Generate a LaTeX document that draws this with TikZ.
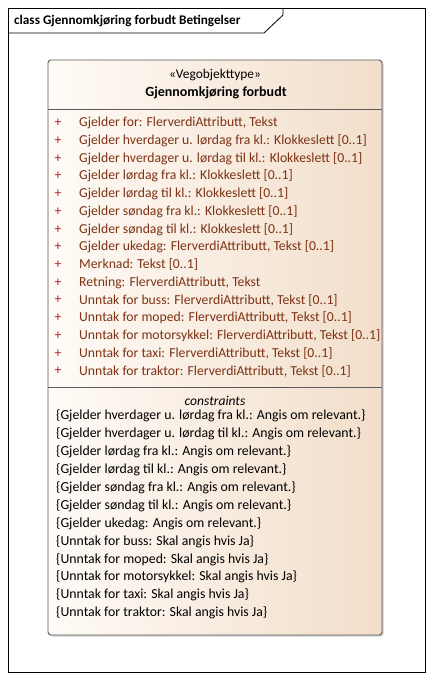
\documentclass[tikz,border=0pt]{standalone}
\usepackage{fontspec}
\setmainfont{Carlito}
\usetikzlibrary{shadows}
\definecolor{attrc}{RGB}{125,50,20}
\definecolor{plusc}{RGB}{165,40,40}
\definecolor{boxr}{RGB}{242,222,202}
\definecolor{boxl}{RGB}{255,251,247}
\definecolor{edgec}{RGB}{90,90,90}
\tikzset{
  attr/.style={anchor=west, inner sep=0pt, text=attrc, font=\fontsize{13.7}{15}\selectfont},
  plus/.style={anchor=center, inner sep=0pt, text=plusc, font=\fontsize{13.7}{15}\selectfont},
  cons/.style={anchor=west, inner sep=0pt, text=black, font=\fontsize{13.8}{15}\selectfont},
  sep/.style={draw=edgec, line width=0.8pt}
}
\begin{document}
\begin{tikzpicture}[x=1pt,y=-1pt]
\useasboundingbox (0,0) rectangle (433,680);
\fill[white] (0,0) rectangle (433,680);
% frame
\draw[line width=0.8pt] (8,8) rectangle (425,672);
\draw[line width=0.8pt] (8,33) -- (264,33) -- (283,15) -- (283,8);
\node[anchor=west, inner sep=0pt, font=\bfseries\fontsize{13.2}{15}\selectfont] (title) at (14,21) {class Gjennomkjøring forbudt Betingelser};
% class box
\path[drop shadow={shadow xshift=1.5pt, shadow yshift=-1.5pt, opacity=0.4}, left color=boxl, right color=boxr] (48,60) [rounded corners=3pt] rectangle (382,635);
\draw[draw=edgec, line width=0.9pt, rounded corners=3pt] (48,60) rectangle (382,635);
\node[inner sep=0pt, font=\fontsize{13.4}{15}\selectfont] (stereo) at (215,75) {«Vegobjekttype»};
\node[inner sep=0pt, font=\bfseries\fontsize{14}{16}\selectfont] (name) at (216,93) {Gjennomkjøring forbudt};
\draw[sep] (48,109) -- (382,109);
\foreach \t [count=\i from 0] in {
  {Gjelder for: FlerverdiAttributt, Tekst},
  {Gjelder hverdager u. lørdag fra kl.: Klokkeslett [0..1]},
  {Gjelder hverdager u. lørdag til kl.: Klokkeslett [0..1]},
  {Gjelder lørdag fra kl.: Klokkeslett [0..1]},
  {Gjelder lørdag til kl.: Klokkeslett [0..1]},
  {Gjelder søndag fra kl.: Klokkeslett [0..1]},
  {Gjelder søndag til kl.: Klokkeslett [0..1]},
  {Gjelder ukedag: FlerverdiAttributt, Tekst [0..1]},
  {Merknad: Tekst [0..1]},
  {Retning: FlerverdiAttributt, Tekst},
  {Unntak for buss: FlerverdiAttributt, Tekst [0..1]},
  {Unntak for moped: FlerverdiAttributt, Tekst [0..1]},
  {Unntak for motorsykkel: FlerverdiAttributt, Tekst [0..1]},
  {Unntak for taxi: FlerverdiAttributt, Tekst [0..1]},
  {Unntak for traktor: FlerverdiAttributt, Tekst [0..1]}}
{
  \node[plus] (p\i) at (58,123+17.72*\i) {+};
  \node[attr] (a\i) at (79,123+17.72*\i) {\t};
}
\draw[sep] (48,387) -- (382,387);
\node[inner sep=0pt, font=\itshape\fontsize{13.6}{15}\selectfont] (constr) at (215,401) {constraints};
\foreach \t [count=\i from 0] in {
  {\{Gjelder hverdager u. lørdag fra kl.: Angis om relevant.\}},
  {\{Gjelder hverdager u. lørdag til kl.: Angis om relevant.\}},
  {\{Gjelder lørdag fra kl.: Angis om relevant.\}},
  {\{Gjelder lørdag til kl.: Angis om relevant.\}},
  {\{Gjelder søndag fra kl.: Angis om relevant.\}},
  {\{Gjelder søndag til kl.: Angis om relevant.\}},
  {\{Gjelder ukedag: Angis om relevant.\}},
  {\{Unntak for buss: Skal angis hvis Ja\}},
  {\{Unntak for moped: Skal angis hvis Ja\}},
  {\{Unntak for motorsykkel: Skal angis hvis Ja\}},
  {\{Unntak for taxi: Skal angis hvis Ja\}},
  {\{Unntak for traktor: Skal angis hvis Ja\}}}
{
  \node[cons] (c\i) at (56,416+17.9*\i) {\t};
}
\end{tikzpicture}
\end{document}
